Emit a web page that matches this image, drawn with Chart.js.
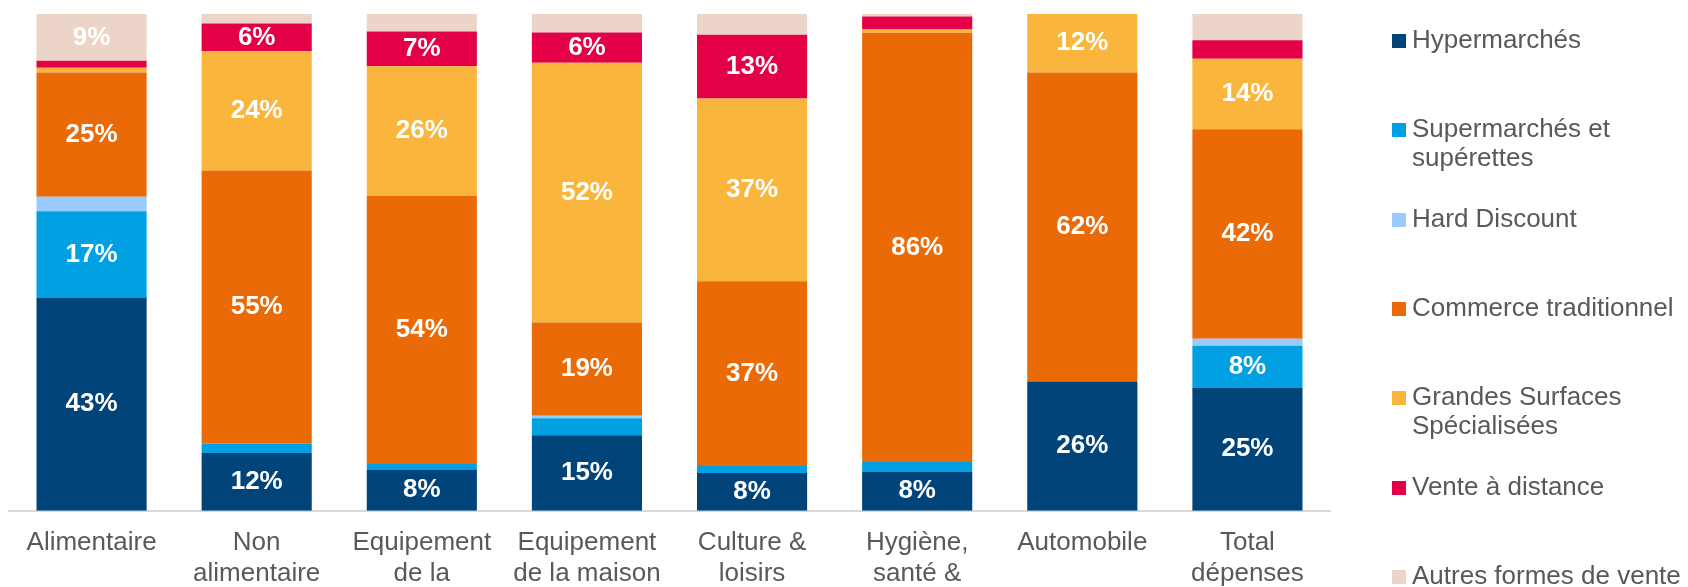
<!DOCTYPE html>
<html>
<head>
<meta charset="utf-8">
<script src="https://cdn.jsdelivr.net/npm/chart.js"></script>
<style>
  html, body { margin: 0; padding: 0; background: #fff; overflow: hidden; }
  #cadre { position: relative; width: 1688px; height: 587px; overflow: hidden; }
  #legende { position: absolute; left: 0; top: 0; font-family: Arial, 'Liberation Sans', sans-serif; font-size: 26px; color: #595959; }
  .item { position: absolute; left: 1392px; }
  .item .carre { position: absolute; left: 0; top: 0; width: 14px; height: 14px; }
  .item .texte { position: absolute; left: 20px; top: -9px; white-space: pre; line-height: 29px; }
</style>
</head>
<body>
<div id="cadre">
  <!-- canvas un peu plus haut que la fenetre : le bas de l'axe est coupe comme sur l'original -->
  <canvas id="barres" width="1688" height="606"></canvas>
  <div id="legende"></div>
</div>
<script>
const categories = [['Alimentaire'], ['Non', 'alimentaire'], ['Equipement', 'de la'], ['Equipement', 'de la maison'],
    ['Culture &', 'loisirs'], ['Hygiène,', 'santé &'], ['Automobile'], ['Total', 'dépenses']];

const hypermarches = [42.9, 11.6, 8.2, 15.2, 7.6, 7.8, 26, 24.8];
const supermarches = [17.4, 1.9, 1.2, 3.4, 1.4, 2, 0, 8.4];
const hardDiscount = [2.9, 0, 0, 0.5, 0, 0, 0, 1.4];
const commerceTrad = [25, 55, 54, 18.8, 37.2, 86.4, 62.2, 42.2];
const grandesSurfaces = [1.0, 24, 26.1, 52.3, 36.8, 0.7, 11.8, 14.2];
const venteDistance = [1.4, 5.6, 7, 6.1, 12.8, 2.6, 0, 3.7];
const autresFormes = [9.4, 1.9, 3.5, 3.7, 4.2, 0.5, 0, 5.3];

const series = [hypermarches, supermarches, hardDiscount, commerceTrad, grandesSurfaces, venteDistance, autresFormes];
const noms = ['Hypermarchés', 'Supermarchés et\nsupérettes', 'Hard Discount', 'Commerce traditionnel',
    'Grandes Surfaces\nSpécialisées', 'Vente à distance', 'Autres formes de vente'];
const couleurs = ['#00447a', '#00a0e2', '#99cbfd', '#ea6a07', '#fab53d', '#e30046', '#ecd4c8'];

const police = 'Arial, "Liberation Sans", sans-serif';

// etiquettes blanches au centre des segments
const etiquettes = {
    id: 'etiquettes',
    afterDatasetsDraw(chart) {
        const ctx = chart.ctx;
        ctx.save();
        ctx.font = 'bold 26px ' + police;
        ctx.fillStyle = '#ffffff';
        ctx.textAlign = 'center';
        ctx.textBaseline = 'middle';
        chart.data.datasets.forEach((ds, i) => {
            chart.getDatasetMeta(i).data.forEach((barre, j) => {
                const v = ds.data[j];
                if (v < 5.5) return;
                const p = barre.getProps(['x', 'y', 'base'], true);
                ctx.fillText(Math.round(v) + '%', p.x, (p.y + p.base) / 2);
            });
        });
        ctx.restore();
    }
};

const ctx = document.getElementById('barres');

new Chart(ctx, {
    type: 'bar',
    data: {
        labels: categories,
        datasets: series.map((s, i) => ({
            label: noms[i].replace('\n', ' '),
            data: s,
            backgroundColor: couleurs[i],
            borderWidth: 0,
            barPercentage: 1,
            categoryPercentage: 0.667
        }))
    },
    options: {
        responsive: false,
        animation: false,
        devicePixelRatio: 1,
        layout: { padding: { left: 9, right: 358, top: 14, bottom: 0 } },
        scales: {
            x: {
                stacked: true,
                grid: { display: false, drawTicks: false, tickLength: 0 },
                border: { display: true, color: '#d9d9d9', width: 2 },
                ticks: {
                    color: '#595959',
                    padding: 17,
                    autoSkip: false,
                    maxRotation: 0,
                    font: { family: police, size: 26, lineHeight: 1.18 }
                }
            },
            y: {
                stacked: true,
                display: false,
                min: 0,
                max: 100
            }
        },
        plugins: {
            legend: { display: false },
            tooltip: { enabled: true }
        }
    },
    plugins: [etiquettes]
});

// legende a droite
const legende = document.getElementById('legende');
noms.forEach((nom, i) => {
    const item = document.createElement('div');
    item.className = 'item';
    item.style.top = (34 + 89.3 * i) + 'px';
    const carre = document.createElement('span');
    carre.className = 'carre';
    carre.style.background = couleurs[i];
    const texte = document.createElement('span');
    texte.className = 'texte';
    texte.textContent = nom;
    item.appendChild(carre);
    item.appendChild(texte);
    legende.appendChild(item);
});
</script>
</body>
</html>
